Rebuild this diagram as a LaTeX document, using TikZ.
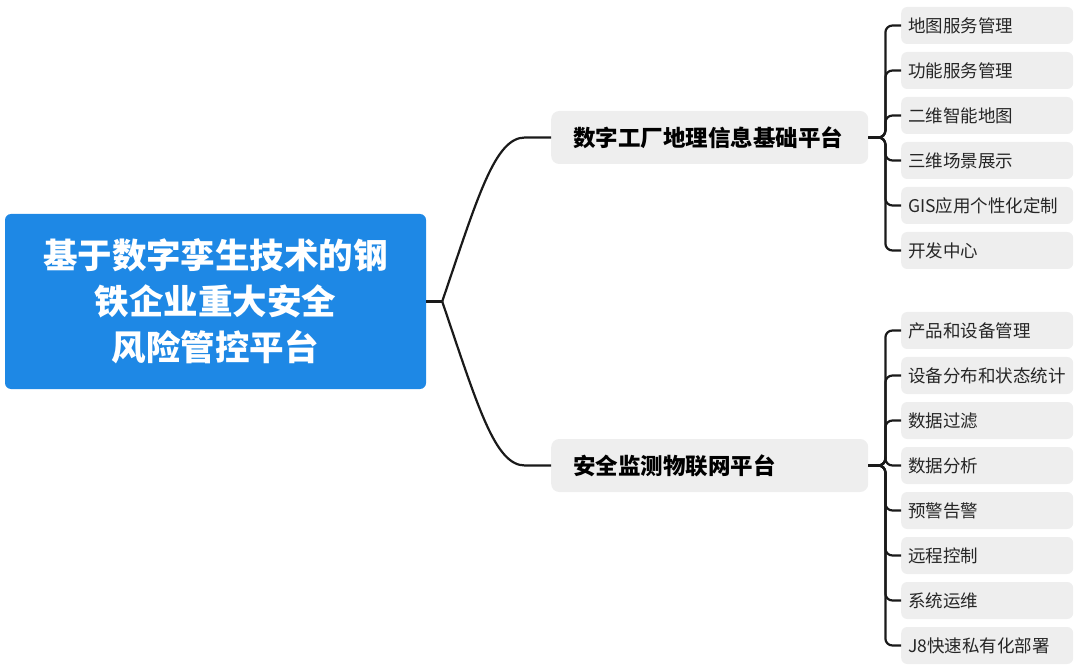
\documentclass[tikz,border=0pt]{standalone}
\usepackage{fontspec}
\setmainfont{Noto Sans CJK SC}
\usepackage{xcolor}
\usetikzlibrary{positioning, calc}
\definecolor{rootblue}{HTML}{1E88E5}
\definecolor{boxgray}{HTML}{EEEEEE}
\definecolor{linkblack}{HTML}{1A1A1A}
\tikzset{%
  root/.style={rectangle, rounded corners=6pt, fill=rootblue, text=white,
    minimum width=421pt, minimum height=175pt, align=center,
    font=\fontsize{34.5}{46}\selectfont\bfseries},
  topic/.style={rectangle, rounded corners=8pt, fill=boxgray, text=black,
    text width=273pt, inner xsep=22pt, inner ysep=2pt, minimum height=53pt,
    align=left, font=\fontsize{22.5}{26}\selectfont\bfseries},
  leaf/.style={rectangle, rounded corners=6pt, fill=boxgray, text=black!85,
    text width=158pt, inner xsep=7pt, inner ysep=2pt, minimum height=37pt,
    align=left, font=\fontsize{17.5}{20}\selectfont},
  link/.style={draw=linkblack, line width=2.2pt},
  branch/.style={link, rounded corners=7pt}
}
\begin{document}
\begin{tikzpicture}[x=1pt, y=-1pt]
  \useasboundingbox (0,0) rectangle (1080,671);
  \node[root] (r) at (215.5,301.5)
    {基于数字孪生技术的钢\\铁企业重大安全\\风险管控平台};
  \node[topic, anchor=west] (t1) at (551,137.5) {数字工厂地理信息基础平台};
  \node[topic, anchor=west] (t2) at (551,465.5) {安全监测物联网平台};
  \coordinate[right=16pt of r.east] (fork);
  \draw[link] (r.east) -- (fork);
  \draw[link] (fork) .. controls +(36,-106) and ($(t1.west)+(-56,0)$)
    .. ($(t1.west)+(-26,0)$) -- (t1.west);
  \draw[link] (fork) .. controls +(36,106) and ($(t2.west)+(-56,0)$)
    .. ($(t2.west)+(-26,0)$) -- (t2.west);
  % first platform
  \foreach \txt [count=\i] in {地图服务管理, 功能服务管理, 二维智能地图,
      三维场景展示, GIS应用个性化定制, 开发中心} {
    \node[leaf, anchor=west] (a\i) at (901, {25.5+45*(\i-1)}) {\txt};
    \draw[branch] (t1.east) -- ++(17,0) |- (a\i.west);
  }
  % second platform
  \foreach \txt [count=\i] in {产品和设备管理, 设备分布和状态统计, 数据过滤,
      数据分析, 预警告警, 远程控制, 系统运维, J8快速私有化部署} {
    \node[leaf, anchor=west] (b\i) at (901, {330.5+45*(\i-1)}) {\txt};
    \draw[branch] (t2.east) -- ++(17,0) |- (b\i.west);
  }
\end{tikzpicture}
\end{document}
